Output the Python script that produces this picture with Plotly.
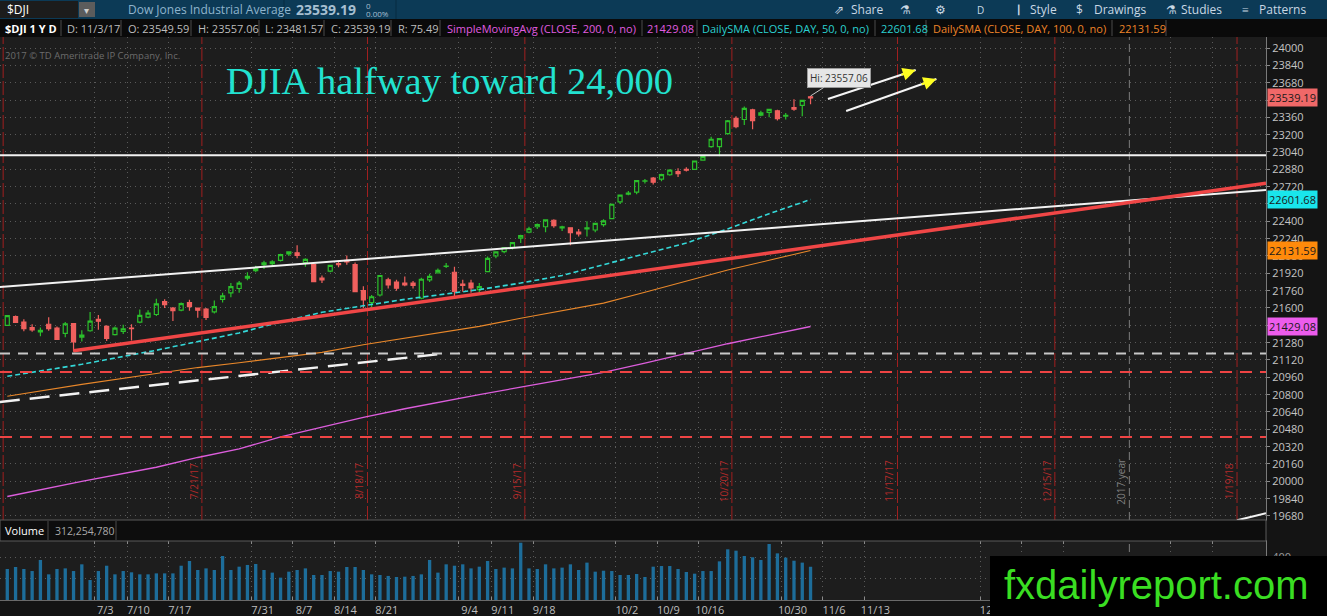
import pandas as pd
import plotly.graph_objects as go

# ---------------- data ----------------
holidays = ["2017-07-04", "2017-09-04", "2017-11-23", "2017-12-25",
            "2018-01-01", "2018-01-15"]
first_day = "2017-06-19"
last_day = "2017-11-03"

# daily candles 6/19/17 .. 11/3/17 (98 sessions)
opens = [21440, 21520, 21470, 21420, 21380, 21450, 21415, 21365, 21455, 21330,
         21390, 21495, 21430, 21355, 21385, 21415, 21470, 21515, 21540, 21660,
         21600, 21580, 21650, 21600, 21590, 21565, 21680, 21740, 21780, 21875,
         21945, 22000, 22010, 22040, 22100, 22110, 22020, 22000, 21875, 21940,
         22010, 22040, 22000, 21760, 21650, 21720, 21860, 21840, 21830, 21830,
         21690, 21860, 21925, 21985, 21930, 21820, 21830, 21770, 21935, 22080,
         22120, 22160, 22245, 22300, 22350, 22350, 22410, 22340, 22340, 22300,
         22330, 22320, 22370, 22425, 22580, 22650, 22670, 22770, 22800, 22790,
         22830, 22860, 22880, 22880, 22965, 23090, 23090, 23210, 23350, 23340,
         23430, 23380, 23405, 23420, 23370, 23450, 23470, 23549.59]
highs = [21535, 21530, 21495, 21450, 21420, 21515, 21430, 21470, 21460, 21395,
         21562, 21535, 21440, 21430, 21445, 21449, 21585, 21580, 21685, 21680,
         21610, 21650, 21675, 21605, 21600, 21670, 21740, 21830, 21850, 21930,
         21990, 22036, 22040, 22100, 22120, 22180, 22060, 22010, 21900, 22000,
         22030, 22085, 22020, 21800, 21720, 21905, 21880, 21860, 21890, 21850,
         21880, 21915, 21965, 22015, 21980, 21860, 21860, 21830, 22075, 22120,
         22160, 22205, 22275, 22350, 22380, 22420, 22420, 22360, 22345, 22330,
         22400, 22385, 22420, 22565, 22645, 22680, 22780, 22790, 22810, 22840,
         22880, 22890, 22900, 22960, 23005, 23180, 23170, 23335, 23370, 23460,
         23440, 23420, 23440, 23430, 23400, 23526, 23520, 23557.06]
lows = [21435, 21465, 21385, 21380, 21340, 21390, 21305, 21330, 21197, 21290,
        21380, 21400, 21295, 21345, 21360, 21300, 21460, 21505, 21525, 21600,
        21480, 21570, 21575, 21510, 21490, 21550, 21650, 21700, 21740, 21855,
        21930, 21960, 21990, 22030, 22080, 22060, 21980, 21840, 21830, 21930,
        21975, 22000, 21750, 21600, 21600, 21705, 21780, 21760, 21800, 21780,
        21680, 21840, 21920, 21970, 21710, 21750, 21740, 21740, 21930, 22060,
        22105, 22140, 22200, 22290, 22330, 22300, 22340, 22310, 22180, 22260,
        22260, 22300, 22350, 22420, 22560, 22640, 22650, 22750, 22740, 22770,
        22820, 22810, 22860, 22875, 22960, 23080, 23000, 23200, 23260, 23290,
        23250, 23370, 23360, 23330, 23340, 23420, 23370, 23481.57]
closes = [21528.99, 21467.14, 21410.03, 21397.29, 21394.76, 21409.55, 21310.66, 21454.61, 21287.03, 21349.63,
          21479.27, 21478.17, 21320.04, 21414.34, 21408.52, 21409.07, 21532.14, 21553.09, 21637.74, 21629.72,
          21574.73, 21640.75, 21611.78, 21580.07, 21513.17, 21613.43, 21711.01, 21796.55, 21830.31, 21891.12,
          21963.92, 22016.24, 22026.10, 22092.81, 22118.42, 22085.34, 22048.70, 21844.01, 21858.32, 21993.71,
          21998.99, 22024.87, 21750.73, 21674.51, 21703.75, 21899.89, 21812.09, 21783.40, 21813.67, 21808.40,
          21865.37, 21892.43, 21948.10, 21987.56, 21753.31, 21807.64, 21784.78, 21797.79, 22057.37, 22118.86,
          22158.18, 22203.48, 22268.34, 22331.35, 22370.80, 22412.59, 22359.23, 22349.59, 22296.09, 22284.32,
          22340.71, 22381.20, 22405.09, 22557.60, 22641.67, 22661.64, 22775.39, 22773.67, 22761.07, 22830.68,
          22872.89, 22841.01, 22871.72, 22956.96, 22997.44, 23157.60, 23163.04, 23328.63, 23273.96, 23441.76,
          23329.46, 23400.86, 23434.19, 23348.74, 23377.24, 23435.01, 23516.26, 23539.19]
# volume, millions of shares
volume_m = [291, 310, 291, 272, 376, 241, 291, 297, 272, 335,
            188, 272, 322, 241, 272, 260, 241, 241, 250, 250,
            250, 322, 366, 282, 297, 282, 413, 282, 313, 329,
            338, 282, 257, 210, 266, 282, 297, 235, 235, 272,
            266, 310, 310, 282, 241, 235, 226, 216, 219, 226,
            241, 376, 257, 335, 322, 335, 297, 313, 366, 291,
            304, 297, 538, 297, 291, 335, 297, 304, 335, 282,
            351, 266, 275, 272, 235, 235, 244, 216, 313, 319,
            319, 291, 263, 247, 272, 272, 363, 476, 463, 413,
            401, 376, 526, 438, 398, 369, 351, 312.25478]

# moving averages, weekly readings
sma_dates = ["2017-06-19", "2017-06-30", "2017-07-14", "2017-07-21", "2017-07-28",
             "2017-08-04", "2017-08-11", "2017-08-18", "2017-08-25", "2017-09-01",
             "2017-09-08", "2017-09-15", "2017-09-22", "2017-09-29", "2017-10-06",
             "2017-10-13", "2017-10-20", "2017-10-27", "2017-11-03"]
sma200 = [19860, 20000, 20130, 20220, 20300, 20410, 20500, 20590, 20670, 20745,
          20800, 20870, 20935, 21005, 21090, 21180, 21270, 21350, 21429.08]
sma100 = [20785, 20895, 20995, 21050, 21095, 21145, 21190, 21260, 21320, 21380,
          21430, 21505, 21575, 21645, 21745, 21850, 21950, 22040, 22131.59]
sma50 = [20970, 21080, 21210, 21290, 21370, 21470, 21560, 21620, 21680, 21730,
         21770, 21830, 21900, 22000, 22100, 22200, 22330, 22470, 22601.68]

# monthly option expirations and the year break
exp_dates = ["2017-06-16", "2017-07-21", "2017-08-18", "2017-09-15", "2017-10-20",
             "2017-11-17", "2017-12-15", "2018-01-19"]
exp_labels = ["", "7/21/17", "8/18/17", "9/15/17", "10/20/17", "11/17/17", "12/15/17", "1/19/18"]
year_end = "2017-12-29"

tick_dates = ["2017-07-03", "2017-07-10", "2017-07-17", "2017-07-31", "2017-08-07",
              "2017-08-14", "2017-08-21", "2017-09-04", "2017-09-11", "2017-09-18",
              "2017-10-02", "2017-10-09", "2017-10-16", "2017-10-30", "2017-11-06",
              "2017-11-13", "2017-12-04", "2017-12-11", "2017-12-18", "2018-01-08",
              "2018-01-16"]
tick_text = ["7/3", "7/10", "7/17", "7/31", "8/7", "8/14", "8/21", "9/4", "9/11", "9/18",
             "10/2", "10/9", "10/16", "10/30", "11/6", "11/13", "12/4", "12/11", "12/18",
             "1/8", "1/16"]
price_ticks = list(range(19680, 24001, 160))

# hand drawings: (bar index, price) end points
trend_white = ([-0.9, 152.0], [21793, 22689])
trend_red = ([8.0, 152.0], [21205, 22751])
trend_white_dash = ([-0.9, 52.3], [20732, 21175])
trend_white_low = ([148.5, 152.0], [19640, 19705])
level_white = 23010
level_gray_dash = 21180
levels_red_dash = [21010, 20410]
arrows = [((99.1, 23529), (109.7, 23797)), ((101.3, 23418), (112.2, 23714))]

# ---------------- helpers ----------------
cal = pd.bdate_range("2017-06-16", "2018-02-28", freq="C", holidays=holidays)
base = int(cal.searchsorted(pd.Timestamp(first_day)))


def day_idx(d):
    return int(cal.searchsorted(pd.Timestamp(d))) - base


n_bars = day_idx(last_day) + 1
bars = list(range(n_bars))

W, H = 1327, 616
ML, MR, MT, MB = 0, 61, 37, 16
PW, PH = W - ML - MR, H - MT - MB


def px(xp):
    return (xp - ML) / PW


def py(yp):
    return (H - MB - yp) / PH


def label(xp, yp, text, color, size, anchor="left", family="Open Sans", **kw):
    return dict(x=px(xp), y=py(yp), xref="paper", yref="paper", xanchor=anchor,
                yanchor="middle", text=text, showarrow=False,
                font=dict(family=family, size=size, color=color), **kw)


UI = "Open Sans"
GREEN, RED = "#2bbf2b", "#f0605e"

fig = go.Figure()

fig.add_trace(go.Bar(x=bars, y=[v * 1e6 for v in volume_m], xaxis="x2", yaxis="y2",
                     marker=dict(color="#1d6d9a", line=dict(width=0)), width=0.4))

sma_x = [day_idx(d) for d in sma_dates]
for vals, color, width, dash in [(sma200, "#dc5ddc", 1.3, "solid"),
                                 (sma100, "#e8872a", 1.1, "solid"),
                                 (sma50, "#34d8d8", 1.6, "5px,3px")]:
    fig.add_trace(go.Scatter(x=sma_x, y=vals, mode="lines",
                             line=dict(color=color, width=width, dash=dash)))

fig.add_trace(go.Candlestick(
    x=bars, open=opens, high=highs, low=lows, close=closes,
    increasing=dict(line=dict(color=GREEN, width=1.2), fillcolor="rgba(0,0,0,0)"),
    decreasing=dict(line=dict(color=RED, width=1.2), fillcolor=RED),
    whiskerwidth=0))

for (xs, ys), color, width, dash in [(trend_white, "#f2f2f2", 2, "solid"),
                                     (trend_red, "#f04646", 3.5, "solid"),
                                     (trend_white_dash, "#f2f2f2", 2.5, "20px,10px"),
                                     (trend_white_low, "#f2f2f2", 2, "solid")]:
    fig.add_trace(go.Scatter(x=xs, y=ys, mode="lines", cliponaxis=True,
                             line=dict(color=color, width=width, dash=dash)))

for (x0, y0), (x1, y1) in arrows:
    fig.add_trace(go.Scatter(x=[x0, x1], y=[y0, y1], mode="lines",
                             line=dict(color="#f5f5f5", width=2)))

shapes = []
# horizontal drawing levels
shapes.append(dict(type="line", xref="x domain", yref="y", x0=0, x1=1,
                   y0=level_white, y1=level_white, line=dict(color="#f2f2f2", width=2)))
shapes.append(dict(type="line", xref="x domain", yref="y", x0=0, x1=1,
                   y0=level_gray_dash, y1=level_gray_dash,
                   line=dict(color="#c8c8c8", width=2, dash="10px,8px")))
for lv in levels_red_dash:
    shapes.append(dict(type="line", xref="x domain", yref="y", x0=0, x1=1, y0=lv, y1=lv,
                       line=dict(color="#ee4444", width=2, dash="12px,8px")))

annotations = []
for d, lab in zip(exp_dates, exp_labels):
    xv = day_idx(d) + 0.5
    shapes.append(dict(type="line", xref="x", yref="y domain", x0=xv, x1=xv, y0=0, y1=1,
                       layer="below", line=dict(color="#a01f1f", width=1, dash="14px,3px")))
    if lab:
        annotations.append(dict(x=xv, y=20000, xref="x", yref="y", text=lab, textangle=-90,
                                showarrow=False, xshift=-8,
                                font=dict(family=UI, size=10, color="#b02a2a")))
yv = day_idx(year_end) + 0.5
for yr in ["y domain", "y2 domain"]:
    shapes.append(dict(type="line", xref="x", yref=yr, x0=yv, x1=yv, y0=0, y1=1, layer="below",
                       line=dict(color="#7a7a7a", width=1, dash="8px,4px")))
annotations.append(dict(x=yv, y=20000, xref="x", yref="y", text="2017 year", textangle=-90,
                        showarrow=False, xshift=-8, font=dict(family=UI, size=10, color="#808080")))

# arrow heads
for (x0, y0), (x1, y1) in arrows:
    annotations.append(dict(x=x1, y=y1, ax=x1 - (x1 - x0) * 0.18, ay=y1 - (y1 - y0) * 0.18,
                            xref="x", yref="y", axref="x", ayref="y", text="",
                            showarrow=True, arrowhead=2, arrowsize=1.3, arrowwidth=2,
                            arrowcolor="#ffff22"))

# high bubble
annotations.append(dict(x=n_bars - 1, y=highs[-1], xref="x", yref="y",
                        text="Hi: %.2f" % highs[-1], showarrow=True, arrowhead=0,
                        arrowcolor="#c8c8c8", arrowwidth=1, ax=28, ay=-18,
                        bgcolor="#e6e6e6", bordercolor="#9a9a9a", borderpad=2,
                        font=dict(family=UI, size=10, color="#333333")))

# title + copyright
annotations.append(label(449, 81, "DJIA halfway toward 24,000", "#22e2d0", 38.5,
                         anchor="center", family="Liberation Serif"))
annotations.append(label(3, 55, "2017 \u00a9 TD Ameritrade IP Company, Inc.", "#6c6c6c", 9.5))

# last-value price tags on the right axis
for val, bg in [(closes[-1], "#f06868"), (sma50[-1], "#19e6ec"),
                (sma100[-1], "#ff8a0a"), (sma200[-1], "#ec5cec")]:
    annotations.append(dict(x=1, y=val, xref="paper", yref="y", xanchor="left",
                            yanchor="middle", xshift=1,
                            text="%.2f" % val, showarrow=False, bgcolor=bg, borderpad=1,
                            font=dict(family=UI, size=11, color="#1a1a1a")))

# top tool bar
shapes.append(dict(type="rect", xref="paper", yref="paper", x0=px(0), x1=px(W),
                   y0=py(19), y1=py(0), fillcolor="#0c3a56", line=dict(width=0)))
shapes.append(dict(type="rect", xref="paper", yref="paper", x0=px(0), x1=px(78),
                   y0=py(18), y1=py(1), fillcolor="#1c1c1c", line=dict(width=0)))
shapes.append(dict(type="rect", xref="paper", yref="paper", x0=px(79), x1=px(95),
                   y0=py(17), y1=py(2), fillcolor="#5c5c5c", line=dict(width=0)))
for xs in [284, 396]:
    shapes.append(dict(type="line", xref="paper", yref="paper", x0=px(xs), x1=px(xs),
                       y0=py(19), y1=py(0), line=dict(color="#072a40", width=1)))
tool_items = [(5, "$DJI", "#ffffff", 12), (82, "\u25be", "#cfcfcf", 10),
              (126, "Dow Jones Industrial Average", "#8fb4cd", 12),
              (832, "\u21d7", "#c9d8e4", 12),
              (849, "Share", "#c9d8e4", 12), (898, "\u2697", "#c9d8e4", 12),
              (933, "\u2699", "#c9d8e4", 12), (975, "D", "#c9d8e4", 10),
              (1014, "\u2503", "#c9d8e4", 9), (1028, "Style", "#c9d8e4", 12),
              (1074, "$", "#c9d8e4", 12), (1092, "Drawings", "#c9d8e4", 12),
              (1164, "\u2697", "#c9d8e4", 12), (1179, "Studies", "#c9d8e4", 12),
              (1240, "\u2261", "#c9d8e4", 12), (1257, "Patterns", "#c9d8e4", 12)]
for xp, txt, col, sz in tool_items:
    annotations.append(label(xp, 9.5, txt, col, sz))
annotations.append(label(294, 9.5, "<b>23539.19</b>", "#a6bfd1", 14))
annotations.append(label(364, 5, "0", "#a6bfd1", 8))
annotations.append(label(364, 13.5, "0.00%", "#a6bfd1", 8))

# study/quote line
shapes.append(dict(type="rect", xref="paper", yref="paper", x0=px(0), x1=px(W),
                   y0=py(37), y1=py(19), fillcolor="#0a0a0a", line=dict(width=0)))
for xs in [61, 121, 191, 259, 324, 391, 440, 642, 697, 875, 926, 1112, 1166]:
    shapes.append(dict(type="line", xref="paper", yref="paper", x0=px(xs), x1=px(xs),
                       y0=py(36), y1=py(20), line=dict(color="#4a4a4a", width=1)))
quote_items = [(3, "<b>$DJI 1 Y D</b>", "#ffffff"), (65, "D: 11/3/17", "#bdbdbd"),
               (126, "O: 23549.59", "#bdbdbd"), (196, "H: 23557.06", "#bdbdbd"),
               (263, "L: 23481.57", "#bdbdbd"), (329, "C: 23539.19", "#bdbdbd"),
               (396, "R: 75.49", "#bdbdbd"),
               (445, "SimpleMovingAvg (CLOSE, 200, 0, no)", "#e05ce0"),
               (645, "21429.08", "#e05ce0"),
               (700, "DailySMA (CLOSE, DAY, 50, 0, no)", "#2bd0d0"),
               (879, "22601.68", "#2bd0d0"),
               (931, "DailySMA (CLOSE, DAY, 100, 0, no)", "#ee8428"),
               (1117, "22131.59", "#ee8428")]
for xp, txt, col in quote_items:
    annotations.append(label(xp, 28, txt, col, 11))

# volume header strip
shapes.append(dict(type="rect", xref="paper", yref="paper", x0=px(0), x1=px(PW),
                   y0=py(541), y1=py(520), fillcolor="#0d0d0d",
                   line=dict(color="#5a5a5a", width=1)))
for xs in [48, 116]:
    shapes.append(dict(type="line", xref="paper", yref="paper", x0=px(xs), x1=px(xs),
                       y0=py(540), y1=py(521), line=dict(color="#4a4a4a", width=1)))
annotations.append(label(3, 530.5, "Volume", "#ffffff", 11))
annotations.append(label(53, 530.5, "312,254,780", "#a8a8a8", 10.5))

# watermark box
shapes.append(dict(type="rect", xref="paper", yref="paper", x0=px(990), x1=px(W),
                   y0=py(H), y1=py(556), fillcolor="#000000", line=dict(width=0), layer="above"))
annotations.append(label(1156, 585, "fxdailyreport.com", "#3ade22", 40, anchor="center",
                         family="Liberation Sans"))

tickvals = [day_idx(d) + 0.5 for d in tick_dates]
x_range = [-0.88, 152.0]
grid = dict(showgrid=True, gridcolor="#5a5a5a", griddash="1px,4px", gridwidth=1)

fig.update_layout(
    width=W, height=H, margin=dict(l=ML, r=MR, t=MT, b=MB),
    paper_bgcolor="#141414", plot_bgcolor="#1d1d1d",
    showlegend=False, hovermode=False,
    shapes=shapes, annotations=annotations,
    xaxis=dict(domain=[0, 1], anchor="y", range=x_range, tickvals=tickvals,
               showticklabels=False, ticks="", zeroline=False,
               showline=True, mirror=True, linecolor="#555555",
               rangeslider=dict(visible=False), **grid),
    xaxis2=dict(domain=[0, 1], anchor="y2", range=x_range, matches="x",
                tickvals=tickvals, ticktext=tick_text, ticks="inside", ticklen=3,
                tickcolor="#8a8a8a", ticklabelshift=11, zeroline=False,
                showline=True, mirror="ticks", linecolor="#6a6a6a",
                tickfont=dict(family=UI, size=11, color="#bdbdbd"), **grid),
    yaxis=dict(domain=[py(520), 1], anchor="x", side="right", range=[19643, 24101.5],
               tickvals=price_ticks, tickformat="d", ticks="outside", ticklen=3,
               tickcolor="#8a8a8a", showline=True, linecolor="#7a7a7a", zeroline=False,
               tickfont=dict(family=UI, size=11, color="#c4c4c4"), **grid),
    yaxis2=dict(domain=[0, py(541)], anchor="x2", side="right", range=[0, 554e6],
                tickvals=[200e6, 400e6], ticktext=["200", "400"], ticks="outside",
                ticklen=3, tickcolor="#8a8a8a", showline=True, linecolor="#7a7a7a",
                zeroline=False, tickfont=dict(family=UI, size=11, color="#9a9a9a"), **grid),
)

fig.write_html("out.html", config={"displayModeBar": False},
               post_script="document.body.style.margin='0';")
